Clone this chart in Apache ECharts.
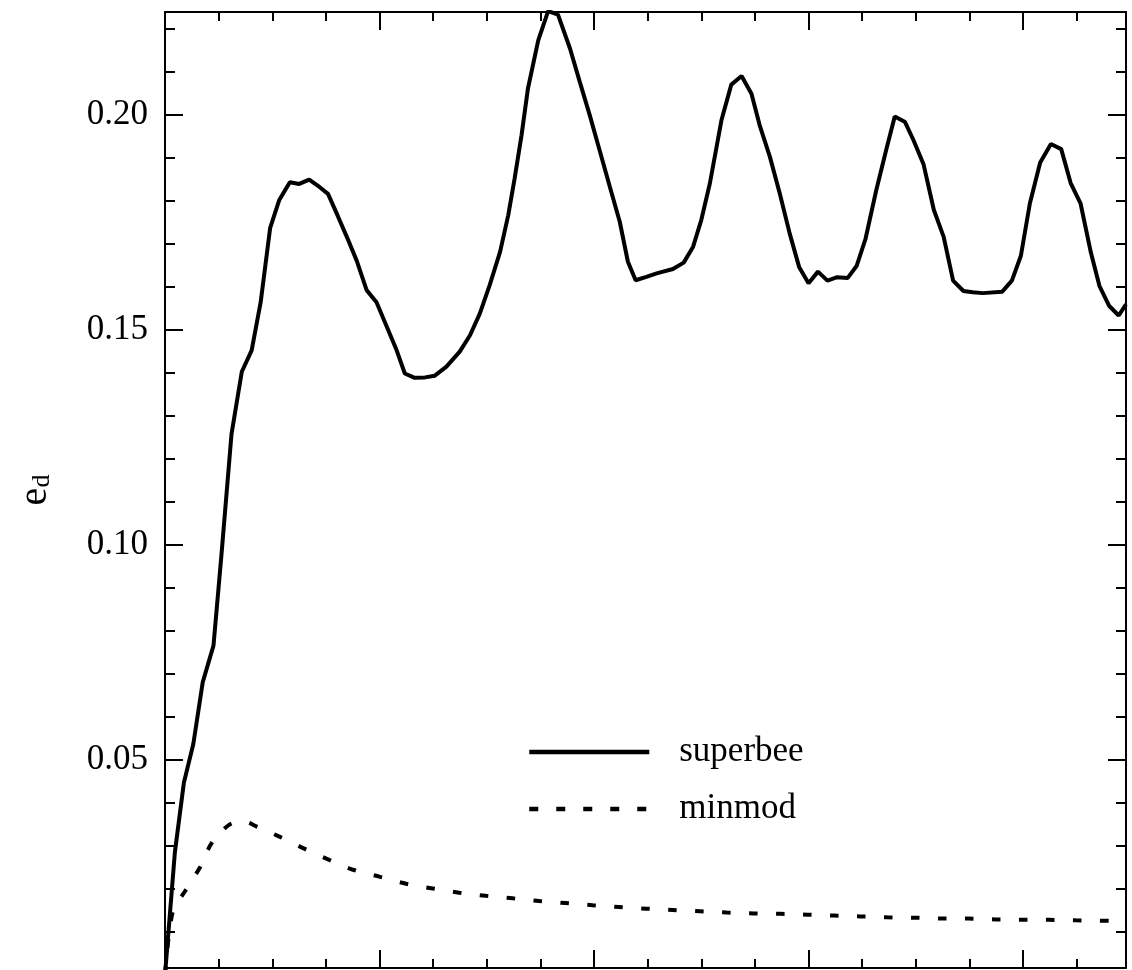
<!DOCTYPE html>
<html>
<head>
<meta charset="utf-8">
<title>e_d: superbee vs minmod</title>
<script src="https://cdn.jsdelivr.net/npm/echarts@6/dist/echarts.min.js"></script>
<style>
  html, body { margin: 0; padding: 0; background: #fff; }
  #chart { width: 1132px; height: 970px; }
</style>
</head>
<body>
<div id="chart"></div>
<script>
// superbee curve: [t, e_d]
const superbeeData = [
  [0.00, 0.0000], [0.23, 0.0285], [0.44, 0.0447], [0.66, 0.0537], [0.88, 0.0681],
  [1.13, 0.0766], [1.32, 0.0982], [1.55, 0.1258], [1.79, 0.1403], [2.02, 0.1453],
  [2.23, 0.1565], [2.45, 0.1737], [2.66, 0.1802], [2.91, 0.1844], [3.13, 0.1840],
  [3.36, 0.1850], [3.60, 0.1833], [3.80, 0.1817], [4.03, 0.1765], [4.25, 0.1714],
  [4.47, 0.1661], [4.70, 0.1593], [4.93, 0.1565], [5.17, 0.1508], [5.40, 0.1453],
  [5.59, 0.1399], [5.82, 0.1389], [6.06, 0.1390], [6.29, 0.1394], [6.56, 0.1415],
  [6.87, 0.1450], [7.11, 0.1488], [7.34, 0.1539], [7.57, 0.1605], [7.81, 0.1682],
  [8.00, 0.1767], [8.15, 0.1853], [8.31, 0.1953], [8.46, 0.2062], [8.70, 0.2174],
  [8.93, 0.2242], [9.16, 0.2234], [9.44, 0.2155], [9.67, 0.2077], [9.90, 0.2000],
  [10.14, 0.1915], [10.37, 0.1833], [10.60, 0.1752], [10.79, 0.1659], [10.97, 0.1616],
  [11.22, 0.1624], [11.46, 0.1632], [11.84, 0.1642], [12.09, 0.1657], [12.31, 0.1694],
  [12.50, 0.1756], [12.70, 0.1841], [12.97, 0.1988], [13.20, 0.2071], [13.44, 0.2091],
  [13.67, 0.2050], [13.86, 0.1977], [14.10, 0.1903], [14.33, 0.1818], [14.56, 0.1725],
  [14.78, 0.1647], [15.00, 0.1609], [15.22, 0.1636], [15.44, 0.1615], [15.67, 0.1623],
  [15.91, 0.1621], [16.12, 0.1649], [16.33, 0.1713], [16.58, 0.1826], [16.82, 0.1923],
  [17.01, 0.1997], [17.25, 0.1984], [17.45, 0.1941], [17.68, 0.1886], [17.92, 0.1780],
  [18.15, 0.1717], [18.37, 0.1615], [18.61, 0.1591], [18.83, 0.1588], [19.06, 0.1586],
  [19.51, 0.1589], [19.74, 0.1615], [19.95, 0.1673], [20.16, 0.1795], [20.40, 0.1890],
  [20.65, 0.1933], [20.89, 0.1921], [21.11, 0.1842], [21.34, 0.1795], [21.58, 0.1681],
  [21.78, 0.1603], [22.01, 0.1556], [22.23, 0.1534], [22.40, 0.1560]
];

// minmod curve: [t, e_d]
const minmodData = [
  [0.00, 0.0000], [0.18, 0.0147], [0.47, 0.0195], [0.82, 0.0251], [1.09, 0.0307],
  [1.51, 0.0350], [1.86, 0.0356], [2.14, 0.0345], [2.68, 0.0321], [3.26, 0.0293],
  [3.84, 0.0267], [4.40, 0.0244], [5.01, 0.0228], [5.62, 0.0212], [6.24, 0.0201],
  [6.86, 0.0191], [7.48, 0.0184], [8.10, 0.0178], [8.72, 0.0172], [9.34, 0.0167],
  [9.97, 0.0162], [10.58, 0.0158], [11.22, 0.0154], [11.84, 0.0151], [12.47, 0.0148],
  [13.09, 0.0145], [13.72, 0.0143], [14.35, 0.0142], [14.97, 0.0140], [15.59, 0.0138],
  [16.21, 0.0136], [16.83, 0.0134], [17.47, 0.0133], [18.10, 0.0131], [18.72, 0.0131],
  [19.36, 0.0129], [19.98, 0.0128], [20.60, 0.0128], [21.23, 0.0127], [21.85, 0.0126],
  [22.40, 0.0125]
];

const seriesNames = ['superbee', 'minmod'];

// axis ranges and ticks
const xRange = [0, 22.4];
const yRange = [0.0016, 0.224];
const xMajorTicks = [0, 5, 10, 15, 20];
const xMinorTicks = [1.25, 2.5, 3.75, 6.25, 7.5, 8.75, 11.25, 12.5, 13.75, 16.25, 17.5, 18.75, 21.25];
const yMajorTicks = [0.05, 0.10, 0.15, 0.20];
const yMinorTicks = [0.01, 0.02, 0.03, 0.04, 0.06, 0.07, 0.08, 0.09, 0.11, 0.12, 0.13, 0.14,
  0.16, 0.17, 0.18, 0.19, 0.21, 0.22];

const FONT = '"Liberation Serif", "DejaVu Serif", serif';
const INK = '#000';

// one axis per side for the long ticks, one for the short ones
function makeXAxis(position, ticks, len, showLine) {
  return {
    type: 'value', position, min: xRange[0], max: xRange[1],
    axisLine: { show: showLine, onZero: false, lineStyle: { color: INK, width: 2 } },
    axisTick: { show: true, inside: true, length: len, customValues: ticks,
      lineStyle: { color: INK, width: 2 } },
    axisLabel: { show: false },
    splitLine: { show: false }
  };
}

function makeYAxis(position, ticks, len, showLine, withLabels) {
  const axis = {
    type: 'value', position, min: yRange[0], max: yRange[1],
    axisLine: { show: showLine, onZero: false, lineStyle: { color: INK, width: 2 } },
    axisTick: { show: true, inside: true, length: len, customValues: ticks,
      lineStyle: { color: INK, width: 2 } },
    axisLabel: { show: false },
    splitLine: { show: false }
  };
  if (withLabels) {
    axis.axisLabel = {
      show: true, customValues: ticks, margin: 17,
      color: INK, fontFamily: FONT, fontSize: 35,
      formatter: v => v.toFixed(2)
    };
    axis.name = '{e|e}{d|d}';
    axis.nameLocation = 'middle';
    axis.nameRotate = 90;
    axis.nameGap = 110;
    axis.nameTextStyle = {
      color: INK, fontFamily: FONT,
      rich: {
        e: { fontFamily: FONT, fontSize: 40, color: INK, verticalAlign: 'top', lineHeight: 40 },
        d: { fontFamily: FONT, fontSize: 26, color: INK, verticalAlign: 'bottom', lineHeight: 26, padding: [18, 0, 0, 0] }
      }
    };
  }
  return axis;
}

const chart = echarts.init(document.getElementById('chart'), null, { renderer: 'canvas' });

const option = {
  backgroundColor: '#fff',
  animation: false,
  grid: { left: 165, right: 6, top: 12, bottom: 2, outerBoundsMode: 'none' },
  legend: {
    orient: 'vertical',
    left: 527,
    top: 732,
    padding: 0,
    itemWidth: 120,
    itemHeight: 20,
    itemGap: 17,
    data: seriesNames,
    itemStyle: { opacity: 0 },
    lineStyle: { width: 4.5 },
    textStyle: { color: INK, fontFamily: FONT, fontSize: 35, lineHeight: 40, padding: [0, 0, 0, 25] }
  },
  xAxis: [
    makeXAxis('bottom', xMajorTicks, 18, true),
    makeXAxis('bottom', xMinorTicks, 9, false),
    makeXAxis('top', xMajorTicks, 18, true),
    makeXAxis('top', xMinorTicks, 9, false)
  ],
  yAxis: [
    makeYAxis('left', yMajorTicks, 18, true, true),
    makeYAxis('left', yMinorTicks, 10, false, false),
    makeYAxis('right', yMajorTicks, 18, true, false),
    makeYAxis('right', yMinorTicks, 10, false, false)
  ],
  series: [
    {
      name: seriesNames[0],
      type: 'line',
      xAxisIndex: 0, yAxisIndex: 0,
      symbol: 'none',
      lineStyle: { color: INK, width: 4 },
      itemStyle: { color: INK },
      data: superbeeData
    },
    {
      name: seriesNames[1],
      type: 'line',
      xAxisIndex: 0, yAxisIndex: 0,
      symbol: 'none',
      smooth: 0.3,
      lineStyle: { color: INK, width: 4, type: [9, 18] },
      itemStyle: { color: INK },
      data: minmodData
    }
  ]
};

chart.setOption(option);
window.addEventListener('resize', () => chart && chart.resize());
</script>
</body>
</html>
